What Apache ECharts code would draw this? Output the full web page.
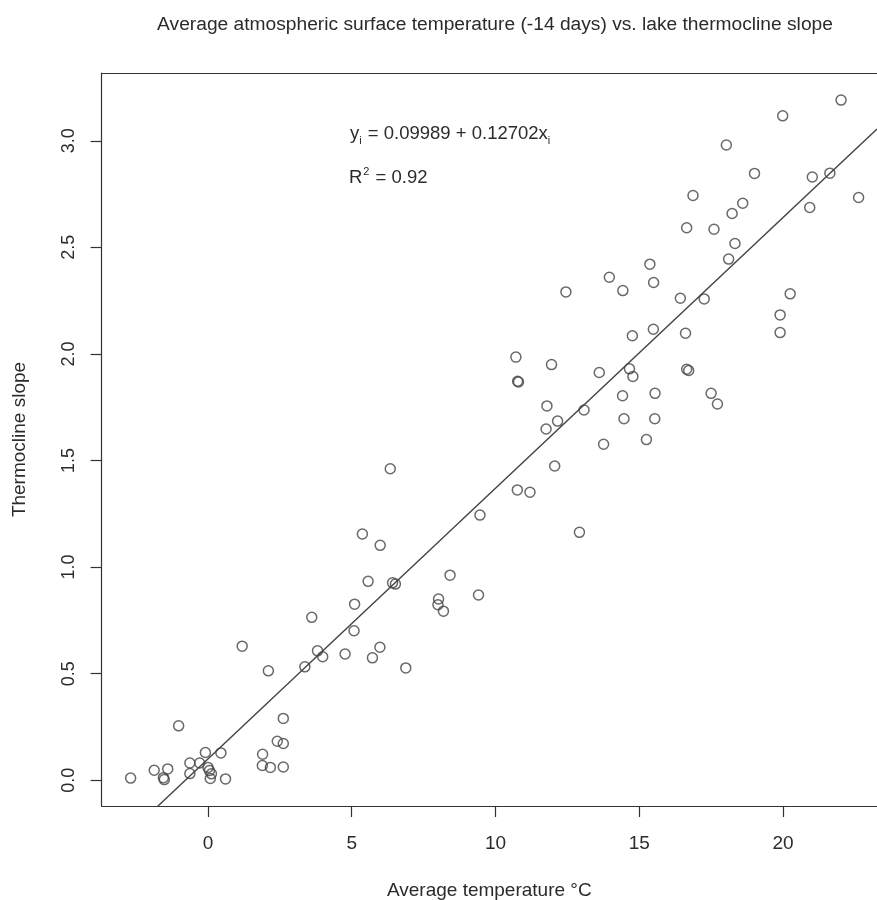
<!DOCTYPE html>
<html lang="en">
<head>
<meta charset="UTF-8">
<title>Thermocline slope vs. temperature</title>
<script src="https://cdn.jsdelivr.net/npm/echarts@6.0.0/dist/echarts.min.js"></script>
<style>
    html, body { margin: 0; padding: 0; background: #fff; }
    #chart { width: 877px; height: 900px; }
</style>
</head>
<body>
<div id="chart"></div>
<script>
    // average temperature (°C)
    const temps = [
        -2.69, -1.02, -1.87, -1.40, -1.55, -1.52, -0.63, -0.63, -0.29, -0.09,
        0.00, 0.05, 0.12, 0.08, 0.45, 0.61, 1.90, 1.89, 2.17, 2.62,
        2.41, 2.62, 2.62,
        6.34, 5.37, 5.99, 9.46, 5.57, 6.42, 6.52, 8.42, 5.10, 8.02,
        8.00, 8.19, 9.41, 3.61, 5.08, 1.19, 3.81, 3.99, 4.77, 5.98,
        5.72, 2.10, 3.37, 6.88,
        10.71, 11.95, 10.77, 10.80, 13.61, 14.66, 14.78, 16.65, 16.72, 11.79,
        13.08, 14.42, 15.55, 17.50, 17.72, 12.16, 11.76, 14.47, 15.54, 13.76,
        15.25, 12.06, 10.76, 11.20, 12.92,
        22.02, 19.99, 18.03, 19.01, 21.02, 21.63, 22.63, 20.93, 16.87, 18.60,
        18.23, 16.65, 17.60, 18.33, 18.11, 15.37, 13.96, 15.50, 12.45, 14.43,
        16.43, 17.26, 20.25, 19.90, 19.90, 14.76, 15.49, 16.61
    ];
    // thermocline slope for each point above
    const slopes = [
        0.010, 0.255, 0.047, 0.053, 0.012, 0.003, 0.081, 0.031, 0.081, 0.130,
        0.060, 0.045, 0.030, 0.008, 0.128, 0.006, 0.122, 0.069, 0.060, 0.290,
        0.183, 0.172, 0.062,
        1.461, 1.155, 1.102, 1.244, 0.933, 0.926, 0.920, 0.962, 0.826, 0.850,
        0.823, 0.793, 0.869, 0.764, 0.701, 0.629, 0.607, 0.579, 0.592, 0.624,
        0.574, 0.513, 0.532, 0.527,
        1.985, 1.950, 1.872, 1.868, 1.913, 1.930, 1.894, 1.928, 1.922, 1.756,
        1.737, 1.804, 1.815, 1.815, 1.765, 1.685, 1.648, 1.696, 1.696, 1.576,
        1.598, 1.474, 1.362, 1.351, 1.163,
        3.191, 3.117, 2.980, 2.847, 2.830, 2.848, 2.734, 2.687, 2.743, 2.707,
        2.659, 2.592, 2.585, 2.518, 2.445, 2.421, 2.360, 2.335, 2.291, 2.297,
        2.261, 2.258, 2.282, 2.183, 2.100, 2.085, 2.116, 2.097
    ];
    const fitCoef = [0.09989, 0.12702];   // intercept, slope
    const rSquared = 0.92;
    const xTicks = [0, 5, 10, 15, 20];
    const yTicks = [0, 0.5, 1, 1.5, 2, 2.5, 3];

    // the original plot box runs past the right edge of the picture
    const xMin = -3.70, xMax = 23.27;
    const yMin = -0.121, yMax = 3.318;

    const points = temps.map((t, i) => [t, slopes[i]]);
    const fitLine = [xMin, xMax].map(x => [x, fitCoef[0] + fitCoef[1] * x]);

    const ink = '#2b2b2b';
    const boxColor = '#333';
    const font = 'Liberation Sans, Arial, sans-serif';

    const myChart = echarts.init(document.getElementById('chart'));

    const hiddenAxisBits = {
        axisTick: { show: false },
        axisLabel: { show: false },
        splitLine: { show: false }
    };

    myChart.setOption({
        animation: false,
        backgroundColor: '#fff',
        textStyle: { fontFamily: font },
        grid: {
            left: 101.6, top: 73, right: 0, bottom: 94,
            containLabel: false, outerBoundsMode: 'none'
        },
        graphic: [
            {
                type: 'text', x: 495, y: 15,
                style: {
                    text: 'Average atmospheric surface temperature (-14 days) vs. lake thermocline slope',
                    fontFamily: font, fontSize: 19.2, fill: ink, align: 'center', verticalAlign: 'top'
                }
            },
            {
                type: 'text', x: 350, y: 122,
                style: {
                    text: '{m|y}{s|i}{m| = ' + fitCoef[0] + ' + ' + fitCoef[1] + 'x}{s|i}',
                    fontFamily: font, fill: ink,
                    rich: {
                        m: { fontSize: 18.5, lineHeight: 24, fill: ink, fontFamily: font },
                        s: { fontSize: 11, lineHeight: 24, fill: ink, fontFamily: font, verticalAlign: 'bottom', padding: [0, 1, 0, 0] }
                    }
                }
            },
            {
                type: 'text', x: 349, y: 166,
                style: {
                    text: '{m|R}{p|2}{m| = ' + rSquared.toFixed(2) + '}',
                    fontFamily: font, fill: ink,
                    rich: {
                        m: { fontSize: 18.5, lineHeight: 24, fill: ink, fontFamily: font },
                        p: { fontSize: 11, lineHeight: 24, fill: ink, fontFamily: font, verticalAlign: 'top', padding: [0, 1, 0, 1] }
                    }
                }
            }
        ],
        xAxis: [
            {
                type: 'value',
                min: xMin, max: xMax,
                name: 'Average temperature °C',
                nameLocation: 'middle',
                nameGap: 75,
                nameTextStyle: { fontSize: 19, color: ink, fontFamily: font },
                axisLine: { show: true, onZero: false, lineStyle: { color: boxColor, width: 1.2 } },
                axisTick: { show: true, customValues: xTicks, length: 11, lineStyle: { color: boxColor, width: 1.2 } },
                axisLabel: { customValues: xTicks, fontSize: 19, color: ink, margin: 28, fontFamily: font },
                splitLine: { show: false }
            },
            // top side of the box
            Object.assign({
                type: 'value', position: 'top', min: xMin, max: xMax,
                axisLine: { show: true, onZero: false, lineStyle: { color: boxColor, width: 1.2 } }
            }, hiddenAxisBits)
        ],
        yAxis: {
            type: 'value',
            min: yMin, max: yMax,
            name: 'Thermocline slope',
            nameLocation: 'middle',
            nameGap: 72,
            nameTextStyle: { fontSize: 19, color: ink, fontFamily: font },
            axisLine: { show: true, onZero: false, lineStyle: { color: boxColor, width: 1.2 } },
            axisTick: { show: true, customValues: yTicks, length: 11, lineStyle: { color: boxColor, width: 1.2 } },
            axisLabel: {
                customValues: yTicks, rotate: 90, fontSize: 18, color: ink, margin: 24, fontFamily: font,
                formatter: v => v.toFixed(1)
            },
            splitLine: { show: false }
        },
        series: [
            {
                type: 'scatter',
                data: points,
                symbol: 'circle',
                symbolSize: 10,
                itemStyle: { color: 'rgba(0,0,0,0)', borderColor: '#444', borderWidth: 1.5 },
                silent: true
            },
            {
                type: 'line',
                data: fitLine,
                symbol: 'none',
                clip: true,
                lineStyle: { color: '#444', width: 1.4 },
                silent: true
            }
        ]
    });
</script>
</body>
</html>
